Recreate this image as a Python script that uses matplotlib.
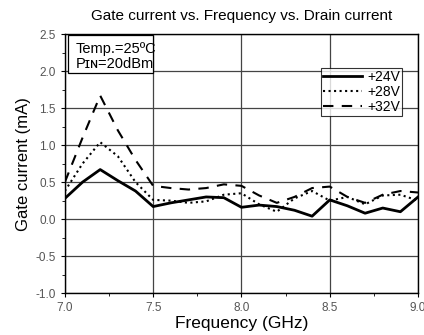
import numpy as np
import matplotlib
matplotlib.use("Agg")
import matplotlib.pyplot as plt
from matplotlib.ticker import MultipleLocator
from matplotlib.patches import Rectangle

plt.rcParams['font.family'] = ['Liberation Sans', 'DejaVu Sans']
plt.rcParams['axes.unicode_minus'] = False

freq = [7.0, 7.1, 7.2, 7.3, 7.4, 7.5, 7.6, 7.7, 7.8, 7.9, 8.0,
        8.1, 8.2, 8.3, 8.4, 8.5, 8.6, 8.7, 8.8, 8.9, 9.0]
ig_24v = [0.28, 0.50, 0.67, 0.52, 0.38, 0.17, 0.22, 0.26, 0.30, 0.29, 0.16,
          0.19, 0.17, 0.12, 0.04, 0.26, 0.18, 0.08, 0.15, 0.10, 0.30]
ig_28v = [0.38, 0.75, 1.04, 0.85, 0.50, 0.26, 0.25, 0.22, 0.24, 0.33, 0.35,
          0.20, 0.10, 0.28, 0.38, 0.25, 0.30, 0.20, 0.32, 0.33, 0.25]
ig_32v = [0.50, 1.10, 1.67, 1.20, 0.80, 0.45, 0.42, 0.40, 0.42, 0.47, 0.45,
          0.32, 0.22, 0.30, 0.42, 0.44, 0.30, 0.22, 0.33, 0.38, 0.36]
labels = ['+24V', '+28V', '+32V']

fig = plt.figure(figsize=(4.24, 3.35), dpi=100)
ax = fig.add_axes([0.153, 0.125, 0.833, 0.773])

ax.plot(freq, ig_24v, '-', color='black', lw=2.0, label=labels[0])
ax.plot(freq, ig_28v, ':', color='black', lw=1.5, label=labels[1])
ax.plot(freq, ig_32v, '--', color='black', lw=1.5, dashes=(5, 4), label=labels[2])

ax.set_xlim(7.0, 9.0)
ax.set_ylim(-1.0, 2.5)
ax.xaxis.set_major_locator(MultipleLocator(0.5))
ax.xaxis.set_minor_locator(MultipleLocator(0.25))
ax.yaxis.set_major_locator(MultipleLocator(0.5))
ax.yaxis.set_minor_locator(MultipleLocator(0.25))
ax.grid(True, which='major', color='#444444', lw=0.9)
ax.tick_params(which='both', direction='out', labelsize=8.5, labelcolor='#555555')
ax.tick_params(which='major', length=3)
ax.tick_params(which='minor', length=2)
for s in ax.spines.values():
    s.set_linewidth(1.0)

ax.set_xlabel('Frequency (GHz)', fontsize=12.5, labelpad=1)
ax.set_ylabel('Gate current (mA)', fontsize=12, labelpad=3)
ax.set_title('Gate current vs. Frequency vs. Drain current', fontsize=11, pad=10)

# condition box in the top-left corner
ax.add_patch(Rectangle((0.008, 0.85), 0.242, 0.145, transform=ax.transAxes,
                       fc='white', ec='black', lw=0.9, zorder=4))
ax.text(0.03, 0.97, 'Temp.=25ºC\nPɪɴ=20dBm', transform=ax.transAxes,
        fontsize=10.5, va='top', ha='left', linespacing=1.1, zorder=5)

leg = ax.legend(loc='upper right', bbox_to_anchor=(0.955, 0.869), fontsize=10,
                frameon=True, fancybox=False, edgecolor='black',
                handlelength=2.8, handletextpad=0.4, borderpad=0.15,
                labelspacing=0.05, borderaxespad=0)
leg.get_frame().set_linewidth(0.8)

fig.savefig('out.png', dpi=100)
